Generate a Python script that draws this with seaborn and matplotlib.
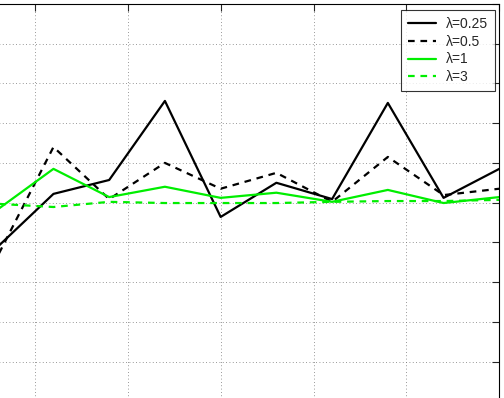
import numpy as np
import pandas as pd
import matplotlib
matplotlib.use("Agg")
import matplotlib.pyplot as plt
import seaborn as sns

x = [3, 6, 9, 12, 15, 18, 21, 24, 27, 30]
lam_025 = [4.89, 6.22, 6.57, 8.56, 5.64, 6.50, 6.09, 8.51, 6.12, 6.85]
lam_05 = [4.66, 7.40, 6.09, 7.00, 6.35, 6.75, 6.02, 7.15, 6.19, 6.35]
lam_1 = [5.83, 6.85, 6.14, 6.40, 6.12, 6.25, 6.02, 6.32, 5.99, 6.14]
lam_3 = [5.97, 5.89, 6.02, 5.99, 5.99, 5.99, 6.02, 6.04, 6.04, 6.07]
labels = ["λ=0.25", "λ=0.5", "λ=1", "λ=3"]
series = [lam_025, lam_05, lam_1, lam_3]

rows = []
for lab, vals in zip(labels, series):
    for xi, yi in zip(x, vals):
        rows.append({"x": xi, "y": yi, "lam": lab})
df = pd.DataFrame(rows)

sns.set_style("white")
plt.rcParams['font.family'] = ['Liberation Sans', 'DejaVu Sans']

fig = plt.figure(figsize=(5.04, 3.98), dpi=100)
W, H = 504, 398
left_px, right_px, top_px, bot_px = -58.0, 499.3, 4.0, 441.0
ax = fig.add_axes([left_px / W, 1 - bot_px / H, (right_px - left_px) / W, (bot_px - top_px) / H])

green = "#00EE00"
palette = {"λ=0.25": "black", "λ=0.5": "black", "λ=1": green, "λ=3": green}
dashes = {"λ=0.25": "", "λ=0.5": (3, 2.6), "λ=1": "", "λ=3": (3, 2.6)}
sns.lineplot(data=df, x="x", y="y", hue="lam", style="lam", palette=palette,
             dashes=dashes, linewidth=1.6, ax=ax, legend=True)

ax.set_xlim(0, 30)
ax.set_ylim(0, 11)
ax.set_xticks(np.arange(0, 31, 5))
ax.set_yticks(np.arange(0, 12, 1))
ax.grid(True, linestyle=(0, (1, 3)), color="#777777", linewidth=0.6)
ax.tick_params(direction="in", length=5, top=True, right=True, bottom=True, left=True,
               labelbottom=False, labelleft=False, width=0.8)
for s in ax.spines.values():
    s.set_color("black")
    s.set_linewidth(0.8)
ax.set_xlabel("")
ax.set_ylabel("")

h, l = ax.get_legend_handles_labels()
leg = ax.legend(h, l, loc="upper right", bbox_to_anchor=(495 / W, 1 - 10 / H),
                bbox_transform=fig.transFigure, frameon=True, fancybox=False,
                fontsize=10, handlelength=2.0, labelspacing=0.27, borderpad=0.5,
                handletextpad=0.7, borderaxespad=0)
leg.get_frame().set_edgecolor("black")
leg.get_frame().set_linewidth(0.8)

fig.savefig("out.png", dpi=100)
